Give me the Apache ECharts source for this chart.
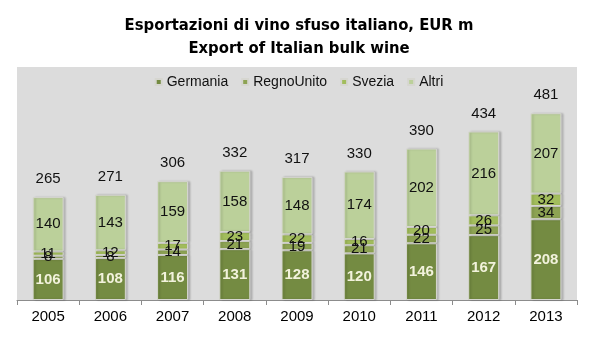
<!DOCTYPE html>
<html>
<head>
<meta charset="utf-8">
<script src="https://cdn.jsdelivr.net/npm/echarts@6/dist/echarts.min.js"></script>
<style>
  html, body { margin: 0; padding: 0; background: #ffffff; }
  #chart { width: 598px; height: 344px; }
</style>
</head>
<body>
<div id="chart"></div>
<script>
// Italian bulk wine exports by destination, EUR million
const years = ['2005', '2006', '2007', '2008', '2009', '2010', '2011', '2012', '2013'];
const germania = [106, 108, 116, 131, 128, 120, 146, 167, 208];
const regnoUnito = [8, 8, 14, 21, 19, 21, 22, 25, 34];
const svezia = [11, 12, 17, 23, 22, 16, 20, 26, 32];
const altri = [140, 143, 159, 158, 148, 174, 202, 216, 207];
const totals = [265, 271, 306, 332, 317, 330, 390, 434, 481];

const colors = {
  germania: '#748b42',
  regnoUnito: '#8da353',
  svezia: '#a2bd5c',
  altri: '#bbd09a'
};

const baseFont = 'Liberation Sans, Arial, sans-serif';

function segment(name, data, color, labelStyle) {
  return {
    name: name,
    type: 'bar',
    stack: 'export',
    data: data,
    barWidth: 31,
    itemStyle: {
      color: color,
      borderColor: '#d6d6d0',
      borderWidth: 1,
      shadowColor: 'rgba(0,0,0,0.18)',
      shadowOffsetX: 2,
      shadowOffsetY: 0,
      shadowBlur: 2
    },
    label: Object.assign({
      show: true,
      position: 'inside',
      fontFamily: baseFont,
      fontSize: 15,
      color: '#111111'
    }, labelStyle || {})
  };
}

const chart = echarts.init(document.getElementById('chart'), null, { renderer: 'canvas' });

chart.setOption({
  animation: false,
  backgroundColor: '#ffffff',
  title: {
    text: 'Esportazioni di vino sfuso italiano, EUR m\nExport of Italian bulk wine',
    left: 'center',
    top: 9,
    textStyle: {
      fontFamily: '"DejaVu Sans Condensed", "Liberation Sans Narrow", sans-serif',
      fontWeight: 'bold',
      fontSize: 16.5,
      lineHeight: 23,
      color: '#000000'
    }
  },
  legend: {
    top: 70,
    left: 'center',
    itemWidth: 6,
    itemHeight: 6,
    itemGap: 13,
    icon: 'rect',
    textStyle: {
      fontFamily: baseFont,
      fontSize: 14,
      color: '#111111'
    },
    data: ['Germania', 'RegnoUnito', 'Svezia', 'Altri']
  },
  grid: {
    left: 17,
    right: 21,
    top: 67,
    bottom: 44,
    show: true,
    backgroundColor: '#dcdcdc',
    borderWidth: 0
  },
  xAxis: {
    type: 'category',
    data: years,
    boundaryGap: true,
    axisLine: { lineStyle: { color: '#8c8c8c', width: 1 } },
    axisTick: { show: true, length: 5, lineStyle: { color: '#8c8c8c' } },
    axisLabel: {
      fontFamily: baseFont,
      fontSize: 15,
      color: '#000000',
      margin: 9
    }
  },
  yAxis: {
    type: 'value',
    min: 0,
    max: 600,
    show: false,
    splitLine: { show: false }
  },
  series: [
    segment('Germania', germania, colors.germania, {
      color: '#f2f2dc',
      fontWeight: 'bold',
      fontSize: 15
    }),
    segment('RegnoUnito', regnoUnito, colors.regnoUnito),
    segment('Svezia', svezia, colors.svezia),
    segment('Altri', altri, colors.altri),
    {
      name: 'Totale',
      type: 'line',
      data: totals,
      symbol: 'circle',
      symbolSize: 1,
      showSymbol: true,
      itemStyle: { color: 'rgba(0,0,0,0)' },
      lineStyle: { opacity: 0 },
      silent: true,
      z: 5,
      label: {
        show: true,
        position: 'top',
        distance: 10,
        fontFamily: baseFont,
        fontSize: 15,
        color: '#111111'
      }
    }
  ]
});
</script>
</body>
</html>
